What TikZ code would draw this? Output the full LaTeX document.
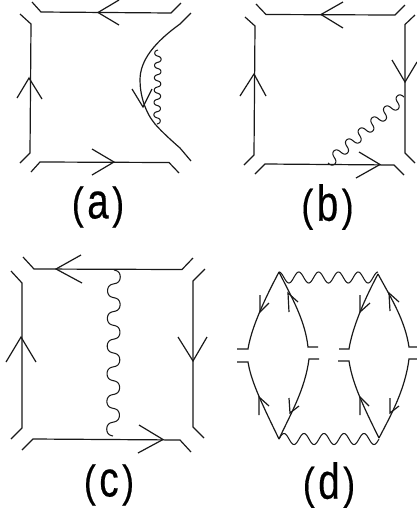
\documentclass[tikz,border=0pt]{standalone}
\usepackage{fontspec}
\setmainfont{Liberation Sans}
\newfontfamily\labfont[FakeBold=0.4]{Liberation Sans}
\newcommand{\arrowbarbs}[3]{\draw[fermion] (#2) -- (#1) -- (#3);}
\newcommand{\lab}[1]{\labfont\fontsize{42}{42}\selectfont\scalebox{.85}[1.05]{(}\kern3.5pt\scalebox{.92}[1.2]{#1}\kern3.5pt\scalebox{.85}[1.05]{)}}
% wavy line: x1 y1 x2 y2 periods amplitude overhang
\newcommand{\wavy}[7]{%
  \pgfmathsetmacro{\wL}{veclen(#3-#1,#4-#2)}%
  \pgfmathsetmacro{\wux}{(#3-#1)/\wL}%
  \pgfmathsetmacro{\wuy}{(#4-#2)/\wL}%
  \draw[photon] plot[domain=0:#5,samples=240,smooth,variable=\t]
    ({#1+\wux*(\t*\wL/#5-#7*sin(720*\t))-\wuy*#6*sin(360*\t)},
     {#2+\wuy*(\t*\wL/#5-#7*sin(720*\t))+\wux*#6*sin(360*\t)});}
\tikzset{
  fermion/.style={line width=1.2pt,black!90,line join=miter},
  photon/.style={line width=1.05pt,black!90},
  labeltext/.style={inner sep=0pt,anchor=center},
}
\begin{document}
\begin{tikzpicture}[x=1pt,y=-1pt]
\useasboundingbox (0,0) rectangle (417,515);
% (a)
\draw[fermion] (32,2) -- (41,12) -- (171,13) -- (181,3);
\arrowbarbs{98,12.5}{119,0}{119,25}
\draw[fermion] (20,14) -- (31,24) -- (30,153) -- (20,163);
\arrowbarbs{29,78}{17,98}{42,99}
\draw[fermion] (31,172) -- (40,162) -- (169,162.5) -- (179,173);
\arrowbarbs{114,162}{92,149}{92,175}
\draw[fermion] (191,13) -- (180,24) .. controls (155,42) and (140,60) .. (140,80) .. controls (140,95) and (145,112) .. (155,124) .. controls (162,132) and (172,141) .. (180,148) -- (191,161);
\arrowbarbs{143,107}{132,89}{152,89}
\wavy{158}{50}{157}{124}{6}{3.2}{0.5}
% (b)
\draw[fermion] (256,4) -- (266,14.5) -- (395,15) -- (405,5);
\arrowbarbs{321,14.5}{343,2}{343,28}
\draw[fermion] (245,17) -- (255,26) -- (254,155) -- (244,165);
\arrowbarbs{254,74}{240,96}{266,96}
\draw[fermion] (255,174) -- (265,164) -- (394,165) -- (404,175);
\arrowbarbs{380,164.5}{359,152}{356,178}
\draw[fermion] (415,15) -- (405,24.5) -- (405,153) -- (415,163);
\arrowbarbs{405,82}{392,60}{417,62}
\wavy{404}{97}{328}{163}{6}{5.2}{0.9}
% (c)
\draw[fermion] (23,257) -- (34,269) -- (182,269.5) -- (193,258);
\arrowbarbs{56,269}{81,255}{82,283}
\draw[fermion] (11,271) -- (22,283) -- (22,428) -- (11,439);
\arrowbarbs{21,337}{6,362}{36,362}
\draw[fermion] (205,269) -- (193,281) -- (193,427) -- (204,438);
\arrowbarbs{193,361}{178,337}{207,337}
\draw[fermion] (22,450) -- (33,439) -- (180,440) -- (191,452);
\arrowbarbs{163,439.5}{139,425}{138,453}
\wavy{114}{270}{113}{436}{6}{-6.3}{1.5}
% (d)
\coordinate (A) at (279,272);
\coordinate (B) at (378,274);
\coordinate (C) at (279,439);
\coordinate (D) at (379,438);
\draw[fermion] (237,349) -- (248,349) .. controls (251,330) and (262,304) .. (A);
\arrowbarbs{260,312}{260,295}{269,303}
\draw[fermion] (A) .. controls (292,298) and (305,320) .. (308,347) -- (318,347);
\arrowbarbs{288,293}{289,312}{298,302}
\draw[fermion] (339,349) -- (349,349) .. controls (352,330) and (362,304) .. (B);
\arrowbarbs{360,312}{360,295}{370,303}
\draw[fermion] (B) .. controls (391,298) and (405,320) .. (409,347) -- (417,347);
\arrowbarbs{389,293}{390,311}{399,302}
\draw[fermion] (237,362) -- (248,362) .. controls (251,380) and (259,398) .. (C);
\arrowbarbs{259,397}{259,415}{269,406}
\draw[fermion] (C) .. controls (290,415) and (305,390) .. (309,359) -- (319,359);
\arrowbarbs{290,413}{289,398}{299,406}
\draw[fermion] (338,361) -- (349,361) .. controls (352,380) and (359,398) .. (D);
\arrowbarbs{360,397}{360,415}{369,406}
\draw[fermion] (D) .. controls (391,415) and (405,390) .. (409,359) -- (417,359);
\arrowbarbs{390,413}{390,398}{399,406}
\draw[photon] plot[domain=0:5,samples=160,smooth,variable=\t] ({279+\t*19.8},{277.5-5.5*cos(360*\t)});
\draw[photon] plot[domain=0:5,samples=160,smooth,variable=\t] ({279+\t*20},{439-5.5*sin(360*\t)});
% labels
\node[labeltext] (la) at (98,207) {\lab{a}};
\node[labeltext] (lb) at (327.5,207) {\lab{b}};
\node[labeltext] (lc) at (109,485) {\lab{c}};
\node[labeltext] (ld) at (329,485) {\lab{d}};
\end{tikzpicture}
\end{document}
